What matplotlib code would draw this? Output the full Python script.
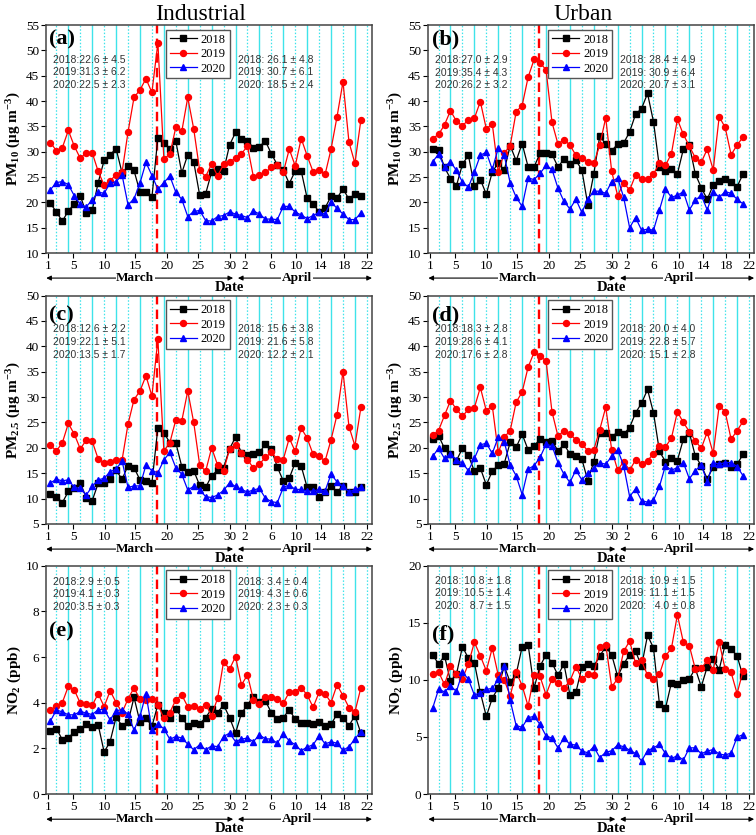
import matplotlib
matplotlib.use("Agg")
import matplotlib.pyplot as plt
from matplotlib.patches import FancyArrowPatch

plt.rcParams['font.family'] = 'Liberation Serif'
plt.rcParams['mathtext.fontset'] = 'custom'
plt.rcParams['mathtext.rm'] = 'Liberation Serif'
plt.rcParams['mathtext.bf'] = 'Liberation Serif:bold'
plt.rcParams['mathtext.default'] = 'bf'

# giorni: 1 Marzo ... 22 Aprile (53 valori giornalieri)
days = list(range(1, 54))
tick_labels = ['1', '5', '10', '15', '20', '25', '30', '2', '6', '10', '14', '18', '22']
years = ['2018', '2019', '2020']

# (a) PM10 industriale
ind_pm10_2018 = [19.8, 18.1, 16.3, 18.3, 19.7, 21.3, 17.9, 18.4, 23.9, 28.3, 29.4, 30.6, 25.8, 27.2, 26.3, 22.0, 22.0, 21.0,
                 32.8, 31.7, 30.5, 32.1, 25.8, 29.4, 28.0, 21.4, 21.7, 26.0, 26.5, 26.2, 31.3, 33.8, 32.6, 32.1, 30.8, 31.0,
                 32.1, 29.6, 27.4, 26.4, 23.7, 26.2, 26.2, 20.8, 19.7, 18.1, 18.9, 21.2, 20.8, 22.7, 20.6, 21.7, 21.2]
ind_pm10_2019 = [31.8, 30.2, 30.8, 34.2, 31.1, 28.7, 29.8, 29.8, 26.1, 23.4, 24.3, 25.4, 26.0, 33.9, 40.7, 42.2, 44.4, 41.7,
                 51.5, 28.6, 29.5, 34.8, 34.0, 40.7, 34.5, 26.3, 25.1, 27.6, 25.2, 27.5, 28.0, 28.7, 29.6, 31.1, 25.0, 25.4,
                 25.9, 26.9, 27.3, 25.9, 30.5, 27.2, 32.6, 29.2, 26.0, 26.4, 25.5, 30.5, 36.9, 43.8, 31.9, 27.7, 36.3]
ind_pm10_2020 = [22.5, 23.9, 24.1, 23.5, 21.3, 19.6, 19.1, 20.5, 22.0, 21.8, 23.8, 24.1, 25.4, 19.5, 20.7, 23.8, 27.9, 25.3,
                 22.6, 23.9, 25.2, 22.0, 20.6, 17.2, 18.2, 18.4, 16.4, 16.3, 17.2, 17.4, 18.1, 17.7, 17.4, 17.0, 18.3, 17.7,
                 16.7, 16.7, 16.6, 19.2, 19.2, 18.1, 17.5, 16.8, 17.4, 18.0, 17.7, 20.1, 18.8, 17.7, 16.6, 16.6, 17.9]

# (b) PM10 urbano
urb_pm10_2018 = [30.6, 30.4, 26.9, 24.7, 23.3, 27.5, 29.3, 23.2, 24.5, 21.6, 26.0, 27.8, 26.3, 31.2, 28.2, 31.6, 27.0, 27.0,
                 29.7, 29.7, 29.5, 27.0, 28.5, 27.5, 28.3, 26.4, 19.5, 25.6, 33.1, 31.5, 30.2, 31.5, 31.7, 33.9, 37.4, 38.5,
                 41.5, 35.9, 26.9, 26.2, 26.6, 25.6, 30.5, 31.3, 25.6, 22.9, 20.6, 23.4, 24.3, 24.6, 24.1, 23.1, 25.6]
urb_pm10_2019 = [32.6, 33.4, 35.3, 38.1, 36.0, 35.1, 36.3, 36.6, 39.9, 34.5, 35.5, 26.0, 29.7, 31.2, 37.9, 39.1, 44.7, 48.2,
                 47.5, 46.2, 35.8, 31.5, 32.4, 31.3, 29.3, 28.7, 28.0, 27.7, 31.3, 36.7, 26.1, 21.3, 23.9, 22.4, 25.4, 24.6,
                 24.6, 25.6, 27.7, 27.3, 29.6, 36.4, 33.4, 31.1, 28.8, 27.9, 30.5, 26.4, 36.9, 34.8, 29.4, 31.3, 32.9]
urb_pm10_2020 = [28.0, 29.5, 27.0, 28.0, 26.3, 24.0, 23.0, 26.0, 29.3, 29.9, 26.5, 30.7, 29.3, 23.8, 21.0, 19.2, 24.8, 24.5,
                 25.7, 27.3, 26.5, 22.8, 20.2, 18.7, 20.6, 18.0, 20.6, 22.2, 22.2, 21.8, 24.1, 24.8, 21.0, 15.0, 17.0, 14.5,
                 14.7, 14.5, 18.5, 22.6, 21.0, 21.4, 22.1, 18.5, 20.4, 21.4, 18.5, 22.1, 21.0, 22.1, 21.8, 20.6, 19.7]

# (c) PM2.5 industriale
ind_pm25_2018 = [11.0, 10.4, 9.2, 11.4, 12.0, 13.1, 10.2, 9.6, 13.0, 13.1, 13.8, 15.6, 13.8, 16.5, 16.1, 13.7, 13.4, 13.1,
                 24.0, 23.0, 21.0, 21.0, 16.3, 15.2, 15.5, 12.6, 12.2, 14.5, 15.6, 16.1, 19.8, 22.1, 18.9, 18.5, 18.8, 19.1,
                 20.7, 19.7, 16.2, 13.5, 14.0, 17.1, 16.4, 12.2, 12.2, 10.3, 11.2, 12.5, 11.3, 12.5, 11.3, 11.3, 12.2]
ind_pm25_2019 = [20.5, 19.4, 21.0, 24.8, 22.7, 19.8, 21.5, 21.3, 17.8, 17.1, 17.2, 17.6, 17.6, 24.7, 29.5, 31.2, 34.2, 30.2,
                 41.4, 19.4, 21.0, 25.5, 25.3, 31.2, 25.0, 16.6, 15.4, 20.0, 16.6, 15.5, 19.7, 20.6, 18.9, 17.7, 16.0, 16.8,
                 18.1, 19.1, 17.8, 17.7, 21.9, 19.3, 23.9, 21.9, 18.7, 18.3, 17.4, 21.6, 26.5, 35.0, 24.2, 20.4, 28.0]
ind_pm25_2020 = [13.1, 13.8, 13.5, 13.7, 12.2, 12.0, 10.7, 12.4, 13.7, 14.0, 15.3, 15.8, 17.4, 12.2, 12.5, 12.5, 16.6, 15.5,
                 15.1, 17.6, 19.1, 16.1, 14.8, 11.7, 12.4, 11.7, 10.4, 10.2, 10.7, 11.6, 13.1, 12.4, 11.8, 11.3, 11.7, 12.0,
                 10.1, 9.4, 9.2, 12.2, 12.7, 11.8, 11.8, 11.5, 11.5, 11.8, 11.5, 14.8, 13.3, 12.4, 11.3, 11.8, 12.2]

# (d) PM2.5 urbano
urb_pm25_2018 = [21.7, 22.4, 19.9, 18.8, 17.5, 19.9, 18.5, 15.4, 16.0, 12.7, 15.4, 16.6, 16.9, 21.1, 20.1, 22.7, 19.6, 20.4,
                 21.7, 21.1, 21.4, 19.4, 20.7, 18.8, 18.3, 17.8, 13.5, 17.3, 23.0, 23.0, 22.2, 23.1, 22.7, 24.0, 26.9, 28.8,
                 31.5, 26.9, 19.3, 17.3, 17.9, 17.5, 21.7, 23.0, 18.4, 16.5, 13.9, 16.2, 16.8, 17.0, 16.3, 16.8, 18.7]
urb_pm25_2019 = [22.5, 23.4, 26.4, 29.3, 27.6, 26.2, 27.6, 27.9, 31.9, 27.3, 28.3, 19.1, 22.1, 23.4, 29.0, 31.0, 35.9, 38.8,
                 38.0, 37.2, 27.1, 22.3, 23.4, 22.7, 21.6, 20.8, 19.4, 19.6, 23.6, 28.0, 19.6, 15.6, 17.3, 15.6, 17.6, 16.8,
                 17.5, 18.8, 20.4, 20.2, 21.9, 27.1, 25.0, 23.2, 21.4, 19.9, 23.1, 18.9, 28.3, 27.1, 21.7, 23.4, 25.2]
urb_pm25_2020 = [18.3, 19.9, 17.9, 18.8, 17.6, 17.0, 15.5, 17.9, 20.6, 20.9, 18.9, 22.1, 21.2, 16.6, 14.5, 10.8, 15.8, 16.5,
                 18.1, 20.7, 20.4, 17.1, 14.8, 13.2, 15.6, 13.7, 15.0, 16.0, 17.0, 16.8, 18.3, 19.6, 16.5, 10.4, 11.9, 9.6,
                 9.3, 9.7, 12.4, 16.5, 15.6, 16.1, 17.1, 13.9, 15.5, 16.6, 13.3, 17.1, 16.8, 17.1, 17.1, 16.3, 14.5]

# (e) NO2 industriale
ind_no2_2018 = [2.78, 2.87, 2.38, 2.45, 2.74, 2.84, 3.06, 2.92, 3.03, 1.84, 2.30, 3.37, 2.99, 3.15, 4.24, 3.15, 3.35, 2.96,
                3.92, 3.54, 3.35, 3.73, 3.35, 2.99, 3.10, 3.08, 3.35, 3.73, 3.57, 3.91, 3.35, 2.67, 3.54, 3.91, 4.27, 4.05,
                4.08, 3.57, 3.28, 3.35, 3.69, 3.28, 3.13, 3.13, 3.08, 3.15, 2.96, 3.06, 3.50, 3.35, 2.99, 3.44, 2.67]
ind_no2_2019 = [3.69, 3.85, 4.01, 4.72, 4.56, 3.98, 3.94, 3.89, 4.39, 3.83, 4.52, 4.01, 3.57, 4.17, 4.65, 4.15, 4.13, 4.15,
                3.92, 3.32, 3.57, 4.13, 4.34, 3.83, 3.86, 3.73, 3.91, 3.44, 4.20, 5.80, 5.47, 6.02, 4.78, 5.22, 4.13, 3.95,
                4.23, 4.27, 4.15, 3.98, 4.46, 4.49, 4.66, 4.34, 3.80, 4.46, 4.39, 4.01, 4.78, 4.31, 3.79, 3.60, 4.66]
ind_no2_2020 = [3.20, 3.68, 3.60, 3.47, 3.47, 3.62, 3.55, 3.48, 3.70, 3.70, 3.25, 3.65, 3.70, 3.50, 2.80, 3.40, 4.40, 2.80,
                3.07, 2.86, 2.40, 2.52, 2.46, 2.19, 1.94, 2.16, 1.94, 2.11, 2.08, 2.52, 2.67, 2.30, 2.41, 2.45, 2.30, 2.59,
                2.42, 2.41, 2.23, 2.64, 2.33, 2.16, 1.90, 2.06, 2.16, 2.55, 2.20, 2.29, 2.23, 1.91, 2.08, 2.41, 2.74]

# (f) NO2 urbano
urb_no2_2018 = [12.2, 11.4, 12.1, 9.9, 10.5, 12.9, 11.9, 11.5, 8.9, 6.8, 8.4, 9.3, 11.2, 9.8, 10.5, 12.9, 13.1, 9.3,
                11.2, 12.2, 11.5, 10.4, 11.4, 8.7, 8.9, 11.1, 11.4, 11.2, 12.1, 12.9, 12.2, 10.3, 11.4, 12.2, 12.5, 11.2,
                13.9, 12.8, 7.85, 7.5, 9.75, 9.6, 10.0, 10.1, 11.0, 9.4, 11.15, 11.8, 10.9, 13.1, 12.7, 12.1, 10.3]
urb_no2_2019 = [10.5, 10.7, 9.6, 11.2, 10.5, 10.1, 11.4, 13.3, 12.1, 10.8, 12.8, 10.4, 10.0, 8.6, 10.7, 9.5, 7.7, 10.4,
                10.3, 8.7, 10.1, 9.75, 9.3, 9.9, 11.15, 10.1, 10.5, 10.4, 12.85, 13.1, 9.4, 10.1, 12.5, 13.4, 11.45, 11.7,
                10.4, 10.1, 10.5, 12.1, 12.75, 15.7, 13.3, 13.0, 10.95, 11.0, 11.7, 10.9, 13.3, 10.95, 10.65, 8.8, 10.8]
urb_no2_2020 = [7.5, 9.17, 8.96, 9.46, 9.0, 10.66, 10.07, 8.67, 8.88, 9.17, 9.26, 10.04, 11.24, 8.2, 6.0, 5.85, 6.7, 6.8,
                6.1, 5.1, 4.9, 4.05, 4.93, 4.35, 4.3, 3.77, 3.62, 4.15, 3.2, 3.65, 3.8, 4.3, 4.15, 3.85, 3.56, 2.9,
                3.8, 4.05, 4.35, 3.56, 3.12, 3.36, 2.98, 4.05, 4.05, 3.53, 3.77, 3.9, 3.5, 3.42, 3.6, 5.0, 5.2]

# statistiche (prima / dopo la linea rossa)
stats_a = (['2018:22.6 ± 4.5', '2019:31.3 ± 6.2', '2020:22.5 ± 2.3'], ['2018: 26.1 ± 4.8', '2019: 30.7 ± 6.1', '2020: 18.5 ± 2.4'])
stats_b = (['2018:27.0 ± 2.9', '2019:35.4 ± 4.3', '2020:26.2 ± 3.2'], ['2018: 28.4 ± 4.9', '2019: 30.9 ± 6.4', '2020: 20.7 ± 3.1'])
stats_c = (['2018:12.6 ± 2.2', '2019:22.1 ± 5.1', '2020:13.5 ± 1.7'], ['2018: 15.6 ± 3.8', '2019: 21.6 ± 5.8', '2020: 12.2 ± 2.1'])
stats_d = (['2018:18.3 ± 2.8', '2019:28.6 ± 4.1', '2020:17.6 ± 2.8'], ['2018: 20.0 ± 4.0', '2019: 22.8 ± 5.7', '2020: 15.1 ± 2.8'])
stats_e = (['2018:2.9 ± 0.5', '2019:4.1 ± 0.3', '2020:3.5 ± 0.3'], ['2018: 3.4 ± 0.4', '2019: 4.3 ± 0.6', '2020: 2.3 ± 0.3'])
stats_f = (['2018: 10.8 ± 1.8', '2019: 10.5 ± 1.4', '2020:   8.7 ± 1.5'], ['2018: 10.9 ± 1.5', '2019: 11.1 ± 1.5', '2020:   4.0 ± 0.8'])

pm10_label = 'PM$_{10}$ (μg m$^{-3}$)'
pm25_label = 'PM$_{2.5}$ (μg m$^{-3}$)'
no2_label = 'NO$_{2}$ (ppb)'

tick_pos = [0.65, 4.8, 10.1, 15.2, 20.5, 25.7, 31.05, 33.6, 38.0, 42.2, 46.3, 50.2, 54.0]
cyan = '#3fe3ea'
styles = [('black', 's'), ('red', 'o'), ('blue', '^')]


def add_arrow(ax, x0, x1, y):
    tr = ax.get_xaxis_transform()
    arr = FancyArrowPatch((x0, y), (x1, y), transform=tr, arrowstyle='<|-|>', color='black', lw=0.8,
                          mutation_scale=7, shrinkA=0, shrinkB=0, clip_on=False)
    ax.add_patch(arr)


def draw_panel(ax, series, letter, ylabel, ylim, yticks, stats, letter_y, text_y):
    # griglia verticale ciano
    for g in range(2, 55, 2):
        if (g // 2) % 2 == 0:
            ax.axvline(g, color=cyan, lw=1.0, zorder=0)
        else:
            ax.axvline(g, color=cyan, lw=0.9, ls=(0, (1.2, 1.5)), zorder=0)
    ax.axvline(18.8, color='red', lw=1.7, ls=(0, (4, 2.2)), zorder=1)

    for vals, (col, mk), yr in zip(series, styles, years):
        ax.plot(days, vals, color=col, marker=mk, markersize=4.3, lw=0.9, label=yr, zorder=3)

    ax.set_xlim(0.28, 54.85)
    ax.set_ylim(*ylim)
    ax.set_yticks(yticks)
    ax.set_xticks(tick_pos)
    ax.set_xticklabels(tick_labels)
    ax.tick_params(direction='out', length=3.5, width=0.8, labelsize=9.5, pad=1.5)
    for s in ax.spines.values():
        s.set_color('#444444')
        s.set_linewidth(1.1)
    ax.set_ylabel(ylabel, fontsize=11, fontweight='bold', labelpad=2)

    ax.legend(loc='upper left', bbox_to_anchor=(0.36, 0.99), fontsize=9, frameon=True, fancybox=False,
              edgecolor='#555555', framealpha=1, handlelength=2.2, borderpad=0.3, labelspacing=0.2,
              handletextpad=0.3, borderaxespad=0.2)

    ax.text(0.01, letter_y, '(' + letter + ')', transform=ax.transAxes, fontsize=16, fontweight='bold',
            va='center', ha='left')
    left, right = stats
    for i in range(3):
        ax.text(0.022, text_y - i * 0.055, left[i], transform=ax.transAxes, fontsize=7.5,
                family='Liberation Sans', color='#333333', va='center')
        ax.text(0.588, text_y - i * 0.055, right[i], transform=ax.transAxes, fontsize=7.5,
                family='Liberation Sans', color='#333333', va='center')

    # frecce Marzo / Aprile
    tr = ax.get_xaxis_transform()
    ya = -0.11
    add_arrow(ax, 0.3, 31.6, ya)
    add_arrow(ax, 32.4, 54.85, ya)
    ax.text(15.2, ya, 'March', transform=tr, ha='center', va='center', fontsize=9.5, fontweight='bold',
            bbox=dict(facecolor='white', edgecolor='none', pad=0.5))
    ax.text(42.3, ya, 'April', transform=tr, ha='center', va='center', fontsize=9.5, fontweight='bold',
            bbox=dict(facecolor='white', edgecolor='none', pad=0.5))
    ax.text(30.9, -0.152, 'Date', transform=tr, ha='center', va='center', fontsize=10.5, fontweight='bold')


fig = plt.figure(figsize=(7.56, 8.35), dpi=100)

panels = [
    ([0.061, 0.697, 0.431, 0.273], (ind_pm10_2018, ind_pm10_2019, ind_pm10_2020), 'a', pm10_label,
     (10, 55), range(10, 56, 5), stats_a, 0.935, 0.848),
    ([0.5665, 0.697, 0.431, 0.273], (urb_pm10_2018, urb_pm10_2019, urb_pm10_2020), 'b', pm10_label,
     (10, 55), range(10, 56, 5), stats_b, 0.935, 0.845),
    ([0.061, 0.3725, 0.431, 0.2735], (ind_pm25_2018, ind_pm25_2019, ind_pm25_2020), 'c', pm25_label,
     (5, 50), range(5, 51, 5), stats_c, 0.915, 0.852),
    ([0.5665, 0.3725, 0.431, 0.2735], (urb_pm25_2018, urb_pm25_2019, urb_pm25_2020), 'd', pm25_label,
     (5, 50), range(5, 51, 5), stats_d, 0.915, 0.852),
    ([0.061, 0.049, 0.431, 0.2735], (ind_no2_2018, ind_no2_2019, ind_no2_2020), 'e', no2_label,
     (0, 10), range(0, 11, 2), stats_e, 0.71, 0.93),
    ([0.5665, 0.049, 0.431, 0.2735], (urb_no2_2018, urb_no2_2019, urb_no2_2020), 'f', no2_label,
     (0, 20), range(0, 21, 5), stats_f, 0.70, 0.935),
]

for rect, series, letter, ylabel, ylim, yticks, stats, ly, ty in panels:
    ax = fig.add_axes(rect)
    draw_panel(ax, series, letter, ylabel, ylim, list(yticks), stats, ly, ty)

fig.text(0.265, 0.983, 'Industrial', ha='center', va='center', fontsize=17)
fig.text(0.771, 0.983, 'Urban', ha='center', va='center', fontsize=17)

fig.savefig('out.png', dpi=100)
